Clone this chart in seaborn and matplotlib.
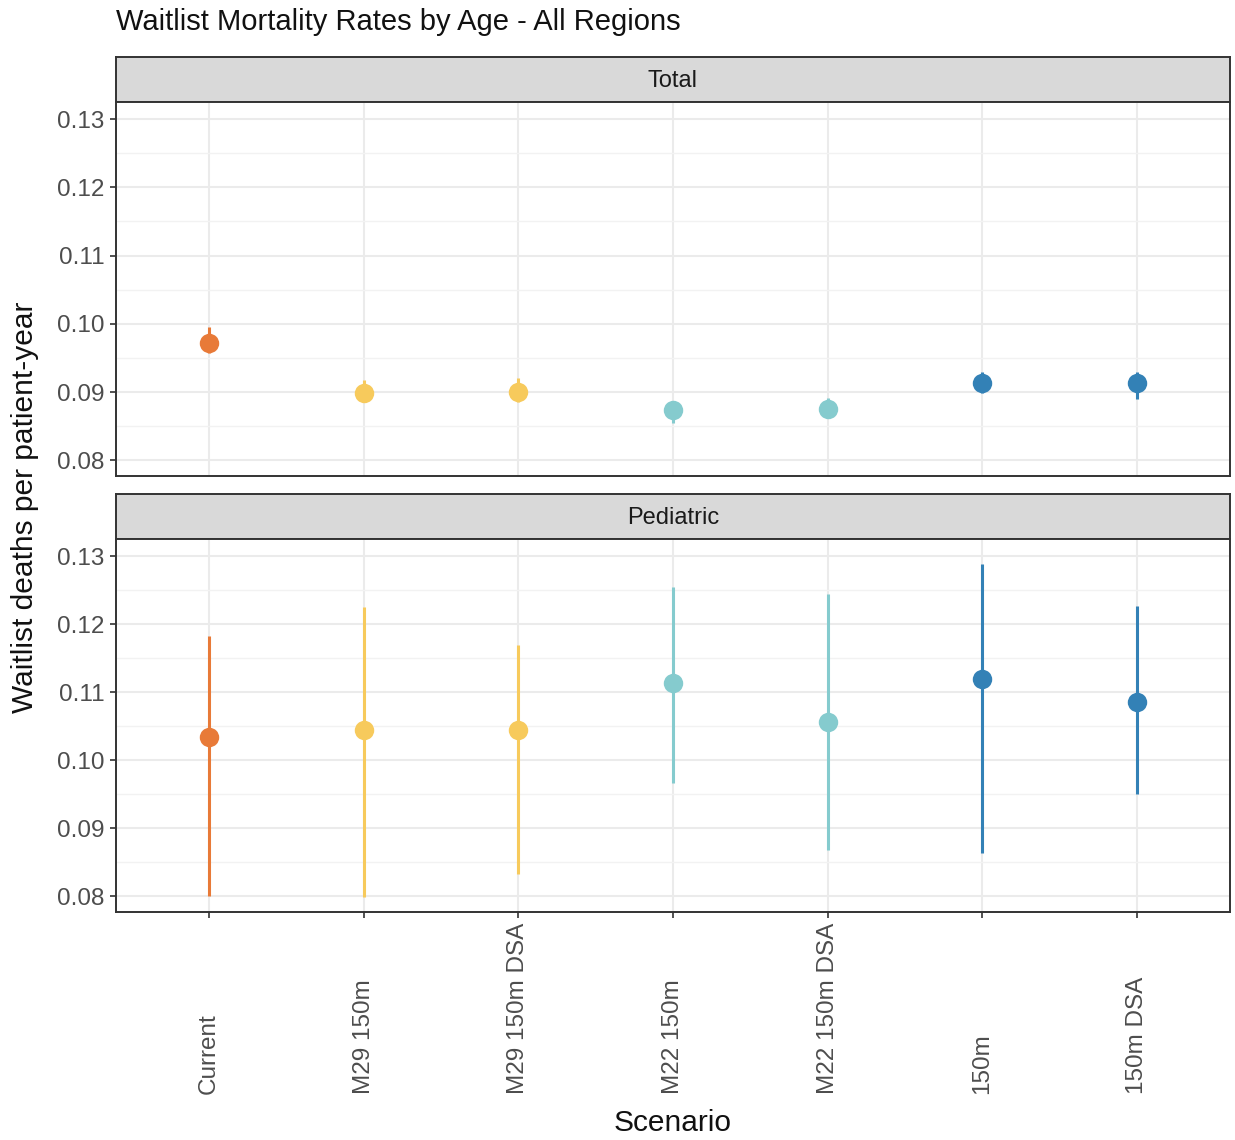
import numpy as np
import pandas as pd
import seaborn as sns
import matplotlib.pyplot as plt
from matplotlib.ticker import MultipleLocator

# Scenario order and colours
scenarios = ['Current', 'M29 150m', 'M29 150m DSA', 'M22 150m', 'M22 150m DSA', '150m', '150m DSA']
scenario_colors = ['#E87A38', '#F7CA5C', '#F7CA5C', '#85CBCE', '#85CBCE', '#3381B6', '#3381B6']

# Total panel (estimate, lower, upper)
total_rate = [0.0972, 0.0899, 0.0900, 0.0874, 0.0875, 0.0914, 0.0913]
total_low = [0.0957, 0.0886, 0.0886, 0.0855, 0.0862, 0.0899, 0.0890]
total_high = [0.0996, 0.0918, 0.0921, 0.0886, 0.0891, 0.0930, 0.0929]

# Pediatric panel
ped_rate = [0.1034, 0.1044, 0.1044, 0.1113, 0.1056, 0.1119, 0.1086]
ped_low = [0.0801, 0.0799, 0.0833, 0.0967, 0.0868, 0.0863, 0.0951]
ped_high = [0.1183, 0.1225, 0.1170, 0.1255, 0.1244, 0.1288, 0.1227]

panels = ['Total', 'Pediatric']

rows = []
for panel, rate, low, high in [('Total', total_rate, total_low, total_high),
                               ('Pediatric', ped_rate, ped_low, ped_high)]:
    for s, r, lo, hi in zip(scenarios, rate, low, high):
        rows.append({'Panel': panel, 'Scenario': s, 'Rate': r, 'Low': lo, 'High': hi})
df = pd.DataFrame(rows)

sns.set_theme(style='white')
plt.rcParams['font.family'] = ['Liberation Sans', 'DejaVu Sans']

W, H = 1235, 1140
fig = plt.figure(figsize=(W / 100, H / 100), dpi=100)


def px_rect(x0, y0, x1, y1):
    return [x0 / W, 1 - y1 / H, (x1 - x0) / W, (y1 - y0) / H]


border = '#333333'
tick_size = 17.5
palette = dict(zip(scenarios, scenario_colors))

panel_boxes = {'Total': (57, 102, 476), 'Pediatric': (494, 539, 912)}

for panel in panels:
    s_top, p_top, p_bot = panel_boxes[panel]
    # facet strip
    sax = fig.add_axes(px_rect(116, s_top, 1230, p_top))
    sax.set_facecolor('#D9D9D9')
    sax.set_xticks([])
    sax.set_yticks([])
    for sp in sax.spines.values():
        sp.set_color(border)
        sp.set_linewidth(1.4)
    sax.text(0.5, 0.47, panel, ha='center', va='center', fontsize=17, color='#1A1A1A',
             transform=sax.transAxes)

    ax = fig.add_axes(px_rect(116, p_top, 1230, p_bot))
    sub = df[df['Panel'] == panel]
    pos = [scenarios.index(s) for s in sub['Scenario']]
    ax.vlines(pos, sub['Low'], sub['High'], colors=[palette[s] for s in sub['Scenario']],
              linewidth=2.2, zorder=3)
    sns.stripplot(data=sub, x='Scenario', y='Rate', hue='Scenario', order=scenarios,
                  palette=palette, jitter=False, size=14, linewidth=0, legend=False,
                  ax=ax, zorder=4)

    ax.set_xlim(-0.6, 6.6)
    ax.set_ylim(0.0777, 0.1325)
    ax.yaxis.set_minor_locator(MultipleLocator(0.005))
    ax.set_yticks([0.08, 0.09, 0.10, 0.11, 0.12, 0.13])
    ax.set_yticklabels(['0.08', '0.09', '0.10', '0.11', '0.12', '0.13'])
    ax.grid(which='major', color='#EBEBEB', linewidth=1.5, zorder=0)
    ax.grid(which='minor', axis='y', color='#F2F2F2', linewidth=1.0, zorder=0)
    ax.set_axisbelow(True)
    ax.set_xlabel('')
    ax.set_ylabel('')
    for sp in ax.spines.values():
        sp.set_color(border)
        sp.set_linewidth(1.4)
    ax.tick_params(axis='y', which='major', length=4, width=1.2, color=border,
                   labelsize=tick_size, labelcolor='#4D4D4D', pad=4.5, left=True)
    ax.tick_params(axis='y', which='minor', length=0)

    if panel == 'Pediatric':
        ax.tick_params(axis='x', length=4, width=1.2, color=border, labelsize=tick_size,
                       labelcolor='#4D4D4D', pad=127, bottom=True)
        for t in ax.get_xticklabels():
            t.set_rotation(90)
            t.set_va('bottom')
            t.set_ha('center')
    else:
        ax.tick_params(axis='x', length=0, labelbottom=False)

fig.text(116 / W, 1 - 22 / H, 'Waitlist Mortality Rates by Age - All Regions', ha='left',
         va='center', fontsize=21, color='#111111')
fig.text(673 / W, 1 - 1123 / H, 'Scenario', ha='center', va='center', fontsize=21.5,
         color='#111111')
fig.text(25 / W, 1 - 507 / H, 'Waitlist deaths per patient-year', ha='center', va='center',
         rotation=90, fontsize=21.5, color='#111111')

fig.savefig('out.png', dpi=100, facecolor='white')
